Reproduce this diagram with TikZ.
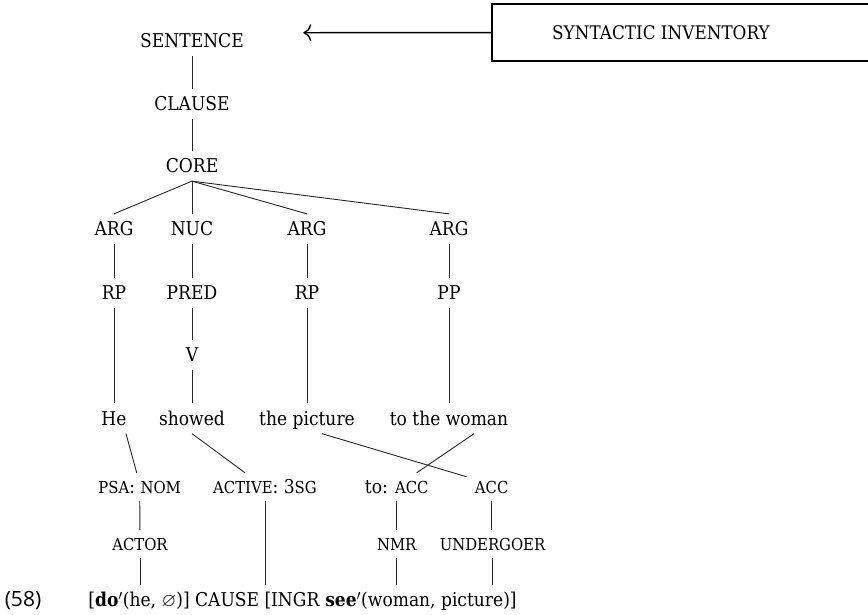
\documentclass[tikz,border=0pt]{standalone}
\usepackage{amsmath, amssymb}
\usepackage{fontspec}
\setmainfont{DejaVu Serif}[FakeStretch=0.9]
\newfontfamily\exfont{Open Sans}
\usetikzlibrary{arrows.meta, calc}
\newcommand{\smc}[1]{{\fontsize{16.5}{16.5}\selectfont #1}}

\tikzset{
  cat/.style={font=\fontsize{19}{19}\selectfont, text height=13.9pt, text depth=0pt, inner xsep=0pt, inner ysep=8pt},
  word/.style={cat},
  feat/.style={cat, text height=12pt},
  link/.style={line width=0.9pt, black!85},
}

\begin{document}
\begin{tikzpicture}[x=1pt, y=-1pt]
  \useasboundingbox (0,0) rectangle (868,614);

  % Inventory box
  \node[draw, line width=2pt, outer sep=0pt, minimum width=400pt, minimum height=56.7pt, anchor=west] (invbox) at (492,32.65) {};
  \node[cat, font=\fontsize{18.7}{18.7}\selectfont] (inv) at (661,32.5) {SYNTACTIC INVENTORY};
  \coordinate (tip) at (303.3,32.7);
  \draw[line width=1.4pt, -{To[length=8pt, width=17pt]}] (invbox.west) -- (tip);

  % Clause layers
  \node[cat] (sentence) at (192,40.8) {SENTENCE};
  \node[cat] (clause) at (192,104) {CLAUSE};
  \node[cat] (core) at (192,166) {CORE};
  \draw[link] (sentence) -- (clause);
  \draw[link] (clause) -- (core);

  % Core daughters
  \node[cat] (arga) at (114,229) {ARG};
  \node[cat] (nuc) at (192,229) {NUC};
  \node[cat] (argb) at (307,229) {ARG};
  \node[cat] (argc) at (449,229) {ARG};
  \foreach \d in {arga, nuc, argb, argc}
    \draw[link] (core.south) -- (\d.north);

  \node[cat] (rpa) at (114,292.7) {RP};
  \node[cat] (pred) at (192,292.7) {PRED};
  \node[cat] (rpb) at (307,292.7) {RP};
  \node[cat] (pp) at (449,292.7) {PP};
  \node[cat] (v) at (192,355) {V};
  \draw[link] (arga) -- (rpa);
  \draw[link] (nuc) -- (pred);
  \draw[link] (argb) -- (rpb);
  \draw[link] (argc) -- (pp);
  \draw[link] (pred) -- (v);

  % Words
  \node[word] (he) at (114,418.5) {He};
  \node[word] (showed) at (192,418.5) {showed};
  \node[word] (picture) at (307,418.5) {the picture};
  \node[word] (woman) at (449,418.5) {to the woman};
  \draw[link] (rpa) -- (he);
  \draw[link] (v) -- (showed);
  \draw[link] (rpb) -- (picture);
  \draw[link] (pp) -- (woman);

  % Case and agreement
  \node[feat] (psa) at (139.7,487) {\smc{PSA}: \smc{NOM}};
  \node[feat] (active) at (265,487) {\smc{ACTIVE}: 3\smc{SG}};
  \node[feat] (toacc) at (396.7,487) {to: \smc{ACC}};
  \node[feat] (acc) at (491.7,487) {\smc{ACC}};
  \draw[link] ($(he.south)+(12,0)$) -- ($(psa.north)+(-3,0)$);
  \draw[link] (showed.south) -- ($(active.north)+(-20,0)$);
  \draw[link] ($(picture.south)+(15,0)$) -- ($(acc.north)+(-25,4)$);
  \draw[link] ($(woman.south)+(25,0)$) -- ($(toacc.north)+(20,0)$);

  % Macroroles
  \node[feat] (actor) at (140,544) {\smc{ACTOR}};
  \node[feat] (nmr) at (396.7,544) {\smc{NMR}};
  \node[feat] (undergoer) at (492.5,544) {\smc{UNDERGOER}};
  \draw[link] (psa) -- (actor);
  \draw[link] (toacc) -- (nmr);
  \draw[link] (acc.south) -- (acc.south |- undergoer.north);

  % Logical structure
  \node[word] (ex) at (23,600) {\exfont\fontsize{21}{21}\selectfont (58)};
  \node[word] (ls) at (302.5,600) {[\textbf{do}$'$(he, $\varnothing$)] CAUSE [INGR \textbf{see}$'$(woman, picture)]};
  \draw[link] (actor.south) -- (actor.south |- ls.north);
  \draw[link] (active.south) -- (active.south |- ls.north);
  \draw[link] (nmr.south) -- (nmr.south |- ls.north);
  \draw[link] (undergoer.south) -- (undergoer.south |- ls.north);
\end{tikzpicture}
\end{document}
